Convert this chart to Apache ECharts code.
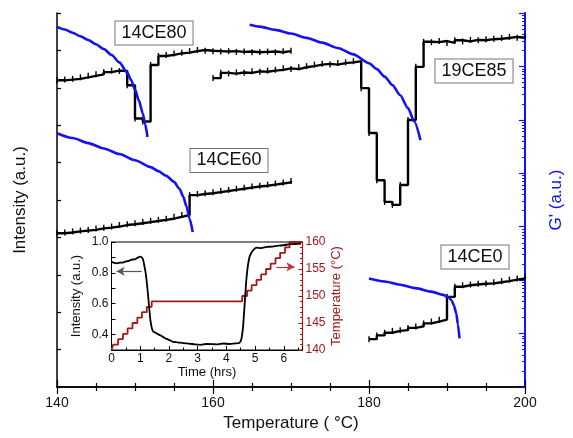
<!DOCTYPE html>
<html>
<head>
<meta charset="utf-8">
<script src="https://cdn.jsdelivr.net/npm/echarts@6/dist/echarts.min.js"></script>
<style>
  html, body { margin: 0; padding: 0; background: #fff; }
  #chart { width: 573px; height: 438px; }
</style>
</head>
<body>
<div id="chart"></div>
<script>
// ---- main plot: intensity (left, a.u.) vs temperature ----
const ce80Temp = [140, 141, 142, 143, 144, 145, 146, 147, 148, 149, 150, 151, 152, 153, 154, 155, 156, 157, 158, 159, 160, 161, 162, 163, 164, 165, 166, 167, 168, 169, 170];
const ce80Int = [8.20, 8.22, 8.24, 8.28, 8.32, 8.36, 8.42, 8.46, 8.45, 8.07, 7.18, 7.10, 8.61, 8.85, 8.88, 8.92, 8.94, 8.98, 9.01, 8.99, 8.98, 8.97, 8.98, 8.96, 8.97, 8.95, 8.96, 8.97, 8.95, 8.98, 8.99];

const ce60Temp = [140, 141, 142, 143, 144, 145, 146, 147, 148, 149, 150, 151, 152, 153, 154, 155, 156, 157, 158, 159, 160, 161, 162, 163, 164, 165, 166, 167, 168, 169, 170];
const ce60Int = [4.11, 4.13, 4.16, 4.18, 4.20, 4.24, 4.26, 4.29, 4.33, 4.35, 4.38, 4.41, 4.44, 4.47, 4.50, 4.55, 4.60, 5.13, 5.16, 5.18, 5.21, 5.24, 5.27, 5.30, 5.33, 5.36, 5.38, 5.41, 5.44, 5.47, 5.51];

const ce85Temp = [160, 161, 162, 163, 164, 165, 166, 167, 168, 169, 170, 171, 172, 173, 174, 175, 176, 177, 178, 179, 180, 181, 182, 183, 184, 185, 186, 187, 188, 189, 190, 191, 192, 193, 194, 195, 196, 197, 198, 199, 200];
const ce85Int = [8.26, 8.40, 8.38, 8.41, 8.40, 8.44, 8.43, 8.46, 8.48, 8.52, 8.50, 8.55, 8.58, 8.62, 8.64, 8.62, 8.66, 8.68, 8.71, 7.99, 6.79, 5.53, 4.95, 4.87, 5.40, 7.14, 8.56, 9.23, 9.22, 9.25, 9.20, 9.27, 9.24, 9.28, 9.27, 9.30, 9.31, 9.33, 9.36, 9.34, 9.38];

const ce0Temp = [180, 181, 182, 183, 184, 185, 186, 187, 188, 189, 190, 191, 192, 193, 194, 195, 196, 197, 198, 199, 200];
const ce0Int = [1.28, 1.38, 1.45, 1.50, 1.52, 1.58, 1.62, 1.70, 1.75, 1.80, 2.41, 2.68, 2.72, 2.74, 2.76, 2.77, 2.80, 2.83, 2.87, 2.90, 2.94];

// ---- G' curves, log10 of G' (right axis, decades) ----
const ce80GTemp = [140, 141, 142, 143, 144, 145, 146, 147, 148, 149, 149.5, 150, 150.5, 151, 151.3, 151.6];
const ce80LogG = [6.74, 6.69, 6.63, 6.565, 6.495, 6.415, 6.325, 6.215, 6.075, 5.885, 5.745, 5.565, 5.36, 5.12, 4.92, 4.68];

const ce60GTemp = [140, 142, 144, 146, 148, 150, 152, 153, 154, 155, 155.7, 156.2, 156.6, 157.0, 157.4];
const ce60LogG = [4.75, 4.66, 4.565, 4.465, 4.36, 4.245, 4.115, 4.04, 3.955, 3.84, 3.71, 3.56, 3.38, 3.15, 2.90];

const ce85GTemp = [164.7, 166, 168, 170, 172, 174, 176, 178, 180, 181, 182, 183, 184, 185, 185.8, 186.6];
const ce85LogG = [6.78, 6.745, 6.685, 6.615, 6.535, 6.445, 6.345, 6.225, 6.06, 5.95, 5.81, 5.65, 5.46, 5.22, 4.97, 4.62];

const ce0GTemp = [180, 182, 184, 186, 188, 189.5, 190.2, 190.6, 190.9, 191.2, 191.4, 191.6];
const ce0LogG = [2.03, 1.975, 1.915, 1.85, 1.785, 1.725, 1.68, 1.62, 1.52, 1.37, 1.17, 0.91];

// ---- inset: isothermal run ----
const insetTime = [0, 0.1, 0.2, 0.3, 0.4, 0.5, 0.6, 0.7, 0.8, 0.9, 1.0, 1.05, 1.1, 1.15, 1.2, 1.25, 1.3, 1.35, 1.4, 1.45, 1.55, 1.7, 1.85, 2.0, 2.15, 2.3, 2.5, 2.7, 2.9, 3.1, 3.3, 3.5, 3.7, 3.9, 4.1, 4.3, 4.45, 4.52, 4.58, 4.63, 4.68, 4.73, 4.8, 4.87, 4.95, 5.05, 5.2, 5.4, 5.6, 5.8, 6.0, 6.2, 6.4, 6.6];
const insetInt = [0.872, 0.864, 0.862, 0.866, 0.867, 0.874, 0.877, 0.886, 0.887, 0.897, 0.905, 0.900, 0.885, 0.84, 0.786, 0.70, 0.60, 0.50, 0.445, 0.42, 0.41, 0.395, 0.378, 0.366, 0.352, 0.350, 0.344, 0.342, 0.336, 0.333, 0.339, 0.338, 0.336, 0.342, 0.339, 0.343, 0.345, 0.37, 0.45, 0.58, 0.72, 0.82, 0.90, 0.93, 0.95, 0.963, 0.960, 0.968, 0.970, 0.976, 0.979, 0.986, 0.987, 0.990];

const stepTime = [0, 0.06, 0.23, 0.4, 0.56, 0.73, 0.9, 1.06, 1.23, 1.4, 4.55, 4.72, 4.88, 5.05, 5.21, 5.38, 5.54, 5.71, 5.87, 6.04, 6.2, 6.65];
const stepTemp = [140, 141, 142, 143, 144, 145, 146, 147, 148, 149, 150, 151, 152, 153, 154, 155, 156, 157, 158, 159, 160, 160];

const insetIntTicks = [0.4, 0.6, 0.8, 1.0];

const zip = (xs, ys) => xs.map((x, i) => [x, ys[i]]);

const FONT = '"Liberation Sans", Arial, sans-serif';
const BLUE = '#1212f2';
const DARKRED = '#a01a1a';

// minor log ticks 2..9 in each decade of the G' axis
const logMinor = [];
for (let d = 0; d < 7; d++) {
    for (let k = 2; k <= 9; k++) logMinor.push(d + Math.log10(k));
}

const chart = echarts.init(document.getElementById('chart'), null, { renderer: 'canvas' });

const intensityLine = (data) => ({
    type: 'line',
    xAxisIndex: 0,
    yAxisIndex: 0,
    step: 'end',
    data: data,
    symbol: 'rect',
    symbolSize: [1.4, 6],
    showSymbol: true,
    itemStyle: { color: '#000' },
    lineStyle: { color: '#000', width: 2.4 },
    z: 3
});

const gLine = (data) => ({
    type: 'line',
    xAxisIndex: 0,
    yAxisIndex: 1,
    data: data,
    smooth: 0.25,
    smoothMonotone: 'x',
    showSymbol: false,
    lineStyle: { color: BLUE, width: 2.6 },
    z: 4
});

const boxLabel = (text, x, y) => ({
    type: 'text',
    x: x,
    y: y,
    z: 10,
    style: {
        text: text,
        font: '18px ' + FONT,
        fill: '#111',
        align: 'center',
        verticalAlign: 'middle',
        backgroundColor: '#fff',
        borderColor: '#777',
        borderWidth: 1,
        padding: [3, 6, 2, 6]
    }
});

const option = {
    animation: false,
    backgroundColor: '#fff',
    textStyle: { fontFamily: FONT },
    grid: [
        { left: 57, right: 44, top: 13, bottom: 51 },
        { left: 111.5, right: 270.5, top: 242, bottom: 88, show: true, borderColor: '#000', borderWidth: 1, backgroundColor: '#fff', z: 5 }
    ],
    xAxis: [
        {
            type: 'value', gridIndex: 0, min: 140, max: 200, interval: 20,
            name: 'Temperature ( °C)', nameLocation: 'middle', nameGap: 27,
            nameTextStyle: { fontSize: 17, color: '#111', fontFamily: FONT },
            axisLine: { lineStyle: { color: '#000', width: 1.5 } },
            axisTick: { inside: true, length: 7, lineStyle: { color: '#000', width: 1.2 } },
            minorTick: { show: true, splitNumber: 4, length: 4, lineStyle: { color: '#000', width: 1.2 } },
            axisLabel: { fontSize: 14, color: '#111', margin: 9, fontFamily: FONT },
            splitLine: { show: false }
        },
        {
            type: 'value', gridIndex: 0, position: 'top', min: 140, max: 200, interval: 20,
            axisLine: { lineStyle: { color: '#000', width: 1.5 } },
            axisTick: { inside: true, length: 7, lineStyle: { color: '#000', width: 1.2 } },
            minorTick: { show: true, splitNumber: 4, length: 4, lineStyle: { color: '#000', width: 1.2 } },
            axisLabel: { show: false },
            splitLine: { show: false }
        },
        {
            type: 'value', gridIndex: 1, min: 0, max: 6.65, interval: 1,
            name: 'Time (hrs)', nameLocation: 'middle', nameGap: 15,
            nameTextStyle: { fontSize: 13, color: '#111', fontFamily: FONT },
            axisLine: { lineStyle: { color: '#000', width: 1 } },
            axisTick: { inside: true, length: 4, lineStyle: { color: '#000' } },
            minorTick: { show: true, splitNumber: 2, length: 2.5, lineStyle: { color: '#000' } },
            axisLabel: { fontSize: 12, color: '#111', margin: 3, fontFamily: FONT, showMaxLabel: false },
            splitLine: { show: false },
            z: 6
        }
    ],
    yAxis: [
        {
            type: 'value', gridIndex: 0, min: 0, max: 10, interval: 1,
            name: 'Intensity (a.u.)', nameLocation: 'middle', nameGap: 28,
            nameTextStyle: { fontSize: 17, color: '#111', fontFamily: FONT },
            axisLine: { lineStyle: { color: '#000', width: 1.5 } },
            axisTick: { inside: true, length: 4, lineStyle: { color: '#000', width: 1.2 } },
            axisLabel: { show: false },
            splitLine: { show: false }
        },
        {
            type: 'value', gridIndex: 0, position: 'right', min: 0, max: 7, interval: 1,
            name: "G' (a.u.)", nameLocation: 'middle', nameGap: 23,
            nameTextStyle: { fontSize: 17, color: BLUE, fontFamily: FONT },
            axisLine: { lineStyle: { color: BLUE, width: 2 } },
            axisTick: { inside: true, length: 6, lineStyle: { color: BLUE, width: 1.2 } },
            axisLabel: { show: false },
            splitLine: { show: false }
        },
        {
            type: 'value', gridIndex: 0, position: 'right', min: 0, max: 7,
            axisLine: { show: false },
            axisTick: { inside: true, length: 3, customValues: logMinor, lineStyle: { color: BLUE, width: 1 } },
            axisLabel: { show: false },
            splitLine: { show: false }
        },
        {
            type: 'value', gridIndex: 1, min: 0.3, max: 1.0,
            name: 'Intensity (a.u.)', nameLocation: 'middle', nameGap: 29,
            nameTextStyle: { fontSize: 13, color: '#111', fontFamily: FONT },
            axisLine: { lineStyle: { color: '#000', width: 1 } },
            axisTick: { inside: true, length: 4, customValues: [0.4, 0.5, 0.6, 0.7, 0.8, 0.9, 1.0], lineStyle: { color: '#000' } },
            axisLabel: { fontSize: 12, color: '#111', margin: 3, fontFamily: FONT, customValues: insetIntTicks, formatter: v => v.toFixed(1) },
            splitLine: { show: false },
            z: 6
        },
        {
            type: 'value', gridIndex: 1, position: 'right', min: 140, max: 160, interval: 5,
            name: 'Temperature (°C)', nameLocation: 'middle', nameGap: 27,
            nameTextStyle: { fontSize: 13, color: DARKRED, fontFamily: FONT },
            axisLine: { lineStyle: { color: DARKRED, width: 1.2 } },
            axisTick: { inside: true, length: 4, lineStyle: { color: DARKRED } },
            minorTick: { show: true, splitNumber: 5, length: 2.5, lineStyle: { color: DARKRED } },
            axisLabel: { fontSize: 12, color: DARKRED, margin: 3, fontFamily: FONT },
            splitLine: { show: false },
            z: 6
        }
    ],
    series: [
        intensityLine(zip(ce80Temp, ce80Int)),
        intensityLine(zip(ce60Temp, ce60Int)),
        intensityLine(zip(ce85Temp, ce85Int)),
        intensityLine(zip(ce0Temp, ce0Int)),
        gLine(zip(ce80GTemp, ce80LogG)),
        gLine(zip(ce60GTemp, ce60LogG)),
        gLine(zip(ce85GTemp, ce85LogG)),
        gLine(zip(ce0GTemp, ce0LogG)),
        {
            type: 'line',
            xAxisIndex: 2,
            yAxisIndex: 4,
            step: 'end',
            data: zip(stepTime, stepTemp),
            showSymbol: false,
            lineStyle: { color: DARKRED, width: 1.8 },
            z: 7,
            markLine: {
                silent: true,
                symbol: ['none', 'arrow'],
                symbolSize: [7, 8],
                label: { show: false },
                lineStyle: { color: '#b03a3a', width: 1.2, type: 'solid' },
                data: [[{ coord: [5.74, 155.4] }, { coord: [6.37, 155.4] }]]
            }
        },
        {
            type: 'line',
            xAxisIndex: 2,
            yAxisIndex: 3,
            data: zip(insetTime, insetInt),
            smooth: 0.2,
            showSymbol: false,
            lineStyle: { color: '#000', width: 1.8 },
            z: 8,
            markLine: {
                silent: true,
                symbol: ['none', 'arrow'],
                symbolSize: [7, 8],
                label: { show: false },
                lineStyle: { color: '#555', width: 1.2, type: 'solid' },
                data: [[{ coord: [1.05, 0.81] }, { coord: [0.18, 0.81] }]]
            }
        }
    ],
    graphic: [
        boxLabel('14CE80', 154, 33),
        boxLabel('14CE60', 229, 160.5),
        boxLabel('19CE85', 474, 71),
        boxLabel('14CE0', 475, 257)
    ]
};

chart.setOption(option);
</script>
</body>
</html>
